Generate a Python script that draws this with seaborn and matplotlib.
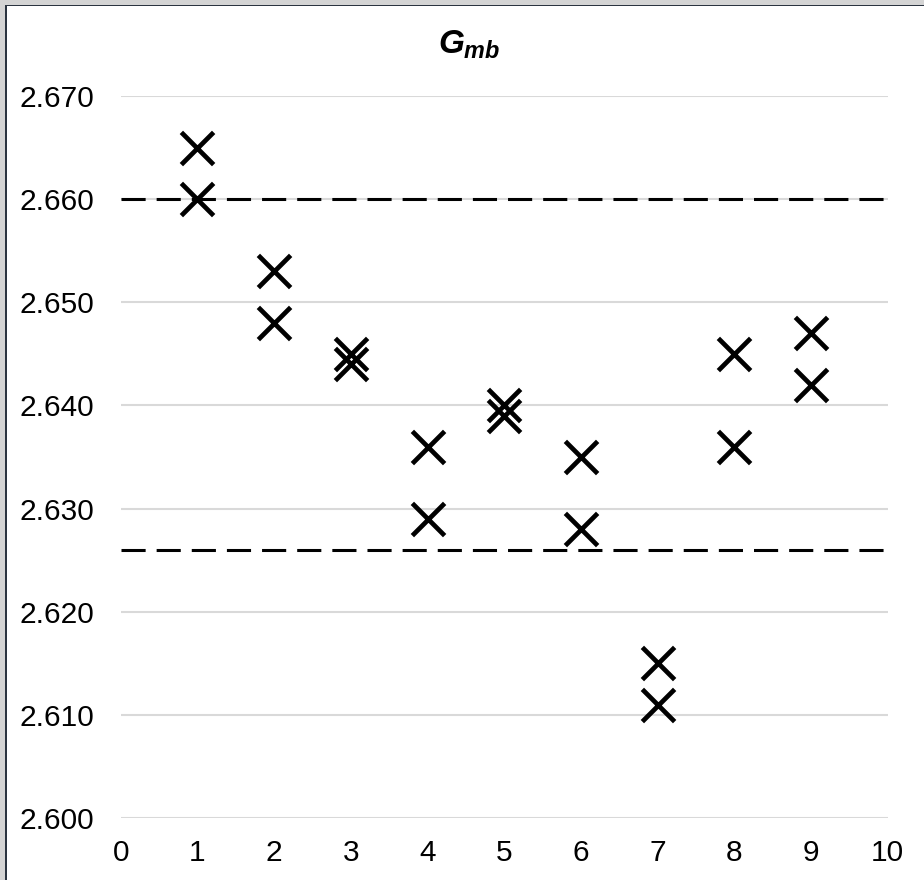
import matplotlib
matplotlib.use("Agg")
import matplotlib.pyplot as plt
import seaborn as sns
import pandas as pd
from matplotlib.patches import Rectangle

# Data
sample = [1, 1, 2, 2, 3, 3, 4, 4, 5, 5, 6, 6, 7, 7, 8, 8, 9, 9]
gmb = [2.665, 2.660, 2.653, 2.648, 2.645, 2.644, 2.636, 2.629, 2.640, 2.639,
       2.635, 2.628, 2.615, 2.611, 2.645, 2.636, 2.647, 2.642]
limits = [2.660, 2.626]
x_ticks = list(range(0, 11))
y_ticks = [2.600, 2.610, 2.620, 2.630, 2.640, 2.650, 2.660, 2.670]
title_text = r"$G_{mb}$"

sns.set_theme(style="white")
plt.rcParams["font.family"] = ["Liberation Sans", "DejaVu Sans"]
plt.rcParams["mathtext.fontset"] = "custom"
plt.rcParams["mathtext.it"] = "Liberation Sans:italic:bold"
plt.rcParams["mathtext.rm"] = "Liberation Sans:bold"

df = pd.DataFrame({"sample": sample, "gmb": gmb})

W, H = 924, 880
fig = plt.figure(figsize=(W / 100, H / 100), dpi=100)
fig.patch.set_facecolor("white")

left, right, bottom, top = 120.7, 887.7, 818, 96
ax = fig.add_axes([left / W, 1 - bottom / H, (right - left) / W, (bottom - top) / H])
ax.set_facecolor("white")

# gridlines
for yv in y_ticks:
    ax.axhline(yv, color="#d9d9d9", lw=1.5, zorder=0)

# limit lines
for lv in limits:
    ax.axhline(lv, color="black", lw=2.2, dashes=(7.9, 3.6), zorder=1)

sns.scatterplot(data=df, x="sample", y="gmb", marker="x", color="black",
                s=540, linewidth=3.4, ax=ax, zorder=3, legend=False)

ax.set_xlim(0, 10)
ax.set_ylim(2.600, 2.670)
ax.set_xticks(x_ticks)
ax.set_xticklabels([str(v) for v in x_ticks])
ax.set_yticks(y_ticks)
ax.set_yticklabels([f"{v:.3f}" for v in y_ticks])
ax.tick_params(axis="both", length=0, labelsize=21.5, colors="black")
ax.tick_params(axis="y", pad=19)
ax.tick_params(axis="x", pad=15)
ax.set_xlabel("")
ax.set_ylabel("")
for sp in ax.spines.values():
    sp.set_visible(False)
ax.grid(False)

fig.text(469 / W, 1 - 45 / H, title_text, ha="center", va="center",
         fontsize=24, color="black")

# frame decoration (window border)
fig.patches.append(Rectangle((0, 1 - 5 / H), 1, 5 / H, transform=fig.transFigure,
                             facecolor="#d4d4d4", edgecolor="none", zorder=10))
fig.patches.append(Rectangle((0, 0), 5 / W, 1, transform=fig.transFigure,
                             facecolor="#d4d4d4", edgecolor="none", zorder=10))
fig.patches.append(Rectangle((5 / W, 0), 1.5 / W, 1 - 5 / H, transform=fig.transFigure,
                             facecolor="#2b3440", edgecolor="none", zorder=11))
fig.patches.append(Rectangle((5 / W, 1 - 6.5 / H), 1, 1.5 / H, transform=fig.transFigure,
                             facecolor="#2b3440", edgecolor="none", zorder=11))

fig.savefig("out.png", dpi=100)
